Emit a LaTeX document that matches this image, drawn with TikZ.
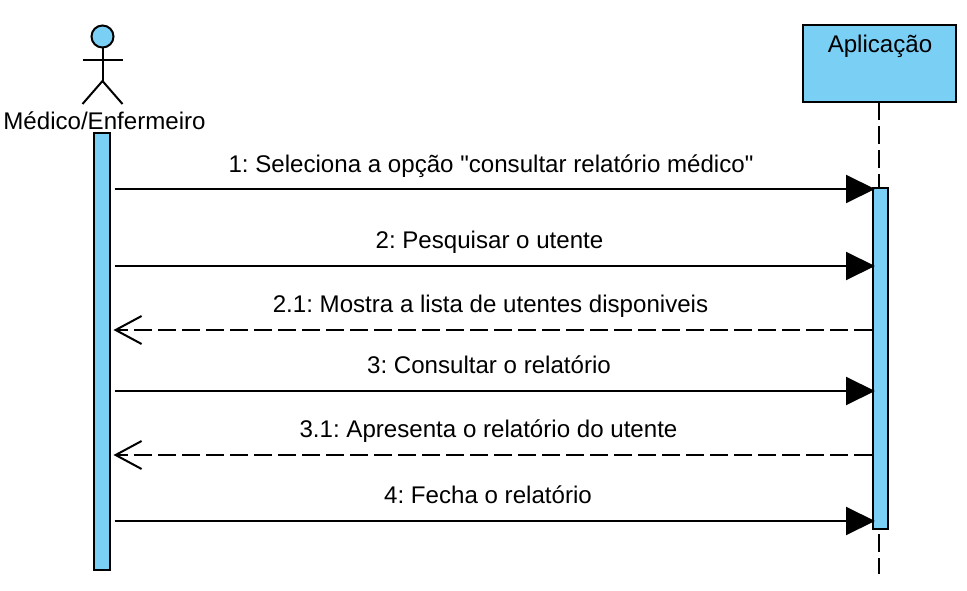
\documentclass[tikz,border=0pt]{standalone}
\usepackage{fontspec}
\setmainfont[Ligatures=TeXOff]{Liberation Sans}
\usetikzlibrary{arrows.meta,backgrounds}
\definecolor{ink}{HTML}{000000}
\definecolor{barfill}{HTML}{7ACFF5}
\tikzset{
  bar/.style={draw=ink,fill=barfill,line width=2pt,minimum width=16pt,inner sep=0pt},
  objbox/.style={draw=ink,fill=barfill,line width=2pt,minimum width=152.5pt,minimum height=77pt,inner sep=0pt},
  stick/.style={draw=ink,line width=2pt},
  lifeline/.style={draw=ink,line width=2pt,dash pattern=on 18pt off 6pt},
  call/.style={-{Triangle[length=29pt,width=28pt]},line width=2pt,draw=ink},
  reply/.style={-{Straight Barb[length=26pt,width=28pt,line width=2pt]},line width=2pt,draw=ink,dash pattern=on 18pt off 6pt},
  msgLabel/.style={font=\fontsize{24.1}{28}\selectfont\frenchspacing,anchor=base,inner sep=0pt}
}
\begin{document}
\begin{tikzpicture}[x=1pt,y=-1pt]
  \useasboundingbox (0,0) rectangle (967,591);

  % Actor on the left, drawn from its head down.
  \node[stick,fill=barfill,circle,minimum size=22pt,inner sep=0pt] (head) at (102.5,36.5) {};
  \coordinate (hip) at (102.5,81);
  \coordinate (armL) at (82.5,60);
  \coordinate (armR) at (122.5,60);
  \coordinate (legL) at (82.5,104);
  \coordinate (legR) at (122.5,104);
  \draw[stick] (head.south) -- (hip);
  \draw[stick] (armL) -- (armR);
  \draw[stick] (legL) -- (hip) -- (legR);
  \node[msgLabel] (actorName) at (104.5,130) {Médico/Enfermeiro};

  % Object box and its lifeline, the bars go on top.
  \node[objbox] (app) at (879.5,63.5) {};
  \node[msgLabel] (appName) at (880,53) {Aplicação};
  \coordinate (lifeTop) at (878.5,102);
  \coordinate (lifeEnd) at (878.5,574);
  \draw[lifeline] (lifeTop) -- (lifeEnd);

  \node[bar,minimum height=437pt] (actorBar) at (101.75,351.5) {};
  \node[bar,minimum height=341pt,minimum width=15pt] (appBar) at (880,358.5) {};

  % Free ends of the messages.
  \coordinate (a1) at (114.5,189);
  \coordinate (b1) at (875,189);
  \coordinate (a2) at (114.5,266);
  \coordinate (b2) at (875,266);
  \coordinate (a3) at (113.5,330);
  \coordinate (b3) at (872,330);
  \coordinate (a4) at (114.5,391);
  \coordinate (b4) at (875,391);
  \coordinate (a5) at (113.5,455);
  \coordinate (b5) at (872,455);
  \coordinate (a6) at (114.5,521);
  \coordinate (b6) at (875,521);

  \draw[call] (a1) -- (b1);
  \draw[call] (a2) -- (b2);
  \draw[reply] (b3) -- (a3);
  \draw[call] (a4) -- (b4);
  \draw[reply] (b5) -- (a5);
  \draw[call] (a6) -- (b6);

  \node[msgLabel] (msg1) at (491,172) {1: Seleciona a opção "consultar relatório médico"};
  \node[msgLabel] (msg2) at (489.5,248) {2: Pesquisar o utente};
  \node[msgLabel] (msg3) at (490.5,312) {2.1: Mostra a lista de utentes disponiveis};
  \node[msgLabel] (msg4) at (489,373) {3: Consultar o relatório};
  \node[msgLabel] (msg5) at (488.5,437) {3.1: Apresenta o relatório do utente};
  \node[msgLabel] (msg6) at (488,503) {4: Fecha o relatório};
\end{tikzpicture}
\end{document}
